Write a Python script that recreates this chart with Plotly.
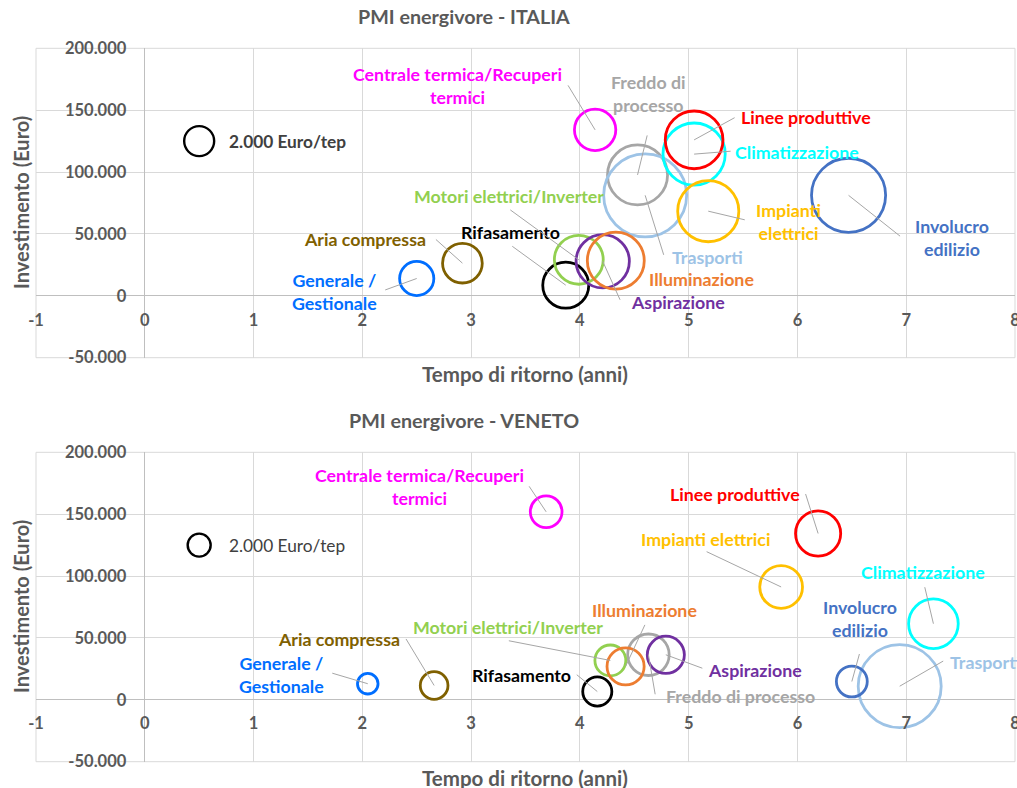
import plotly.graph_objects as go

# ---------------- data ----------------
categories = ["Generale / Gestionale", "Aria compressa", "Centrale termica/Recuperi termici",
              "Freddo di processo", "Trasporti", "Climatizzazione", "Linee produttive",
              "Impianti elettrici", "Involucro edilizio", "Rifasamento",
              "Motori elettrici/Inverter", "Aspirazione", "Illuminazione"]

# PMI energivore - ITALIA
it_payback = [2.50, 2.92, 4.14, 4.53, 4.60, 5.05, 5.05, 5.18, 6.47, 3.87, 3.99, 4.21, 4.33]
it_invest = [14000, 26400, 134100, 97700, 81200, 114500, 126000, 68400, 81200, 8600, 29100, 27900, 28400]
it_cost = [2600, 3500, 3800, 8000, 15300, 8600, 7400, 8300, 12200, 4700, 5300, 6300, 7200]

# PMI energivore - VENETO
ve_payback = [2.05, 2.66, 3.69, 4.63, 6.94, 7.25, 6.19, 5.85, 6.50, 4.16, 4.28, 4.79, 4.42]
ve_invest = [13000, 11600, 151900, 36400, 11000, 61500, 134400, 91200, 14800, 6700, 31800, 36400, 27000]
ve_cost = [1600, 2900, 3800, 6500, 26000, 9300, 7700, 6900, 3600, 3200, 3600, 5200, 5200]

# reference bubble
ref_payback = [0.5]
ref_invest = [125000]
ref_cost = [2000]
ref_label = "2.000 Euro/tep"

x_ticks = [-1, 0, 1, 2, 3, 4, 5, 6, 7, 8]
x_tick_labels = ["-1", "0", "1", "2", "3", "4", "5", "6", "7", "8"]
y_ticks = [-50000, 0, 50000, 100000, 150000, 200000]
y_tick_labels = ["-50.000", "0", "50.000", "100.000", "150.000", "200.000"]

titles = ["PMI energivore - ITALIA", "PMI energivore - VENETO"]
x_title = "Tempo di ritorno (anni)"
y_title = "Investimento (Euro)"

# ---------------- styles ----------------
colors = ["#006EFF", "#7F6000", "#FF00FF", "#A6A6A6", "#9DC3E6", "#00FFFF", "#FF0000",
          "#FFC000", "#4472C4", "#000000", "#92D050", "#7030A0", "#ED7D31"]

# label text, label centre offset (px), leader tail offset (px)
it_layout = [
    ("Generale /<br>Gestionale", (-82, 13), (-33, 12)),
    ("Aria compressa", (-97, -24), (-28, -25)),
    ("Centrale termica/Recuperi<br>termici", (-138, -44), (-28, -46)),
    ("Freddo di<br>processo", (11, -81), (10, -41)),
    ("Trasporti", (62, 62), (19, 61)),
    ("Climatizzazione", (103, -2), (38, -3)),
    ("Linee produttive", (112, -23), (42, -23)),
    ("Impianti<br>elettrici", (80, 10), (38, 9)),
    ("Involucro<br>edilizio", (103, 42), (53, 42)),
    ("Rifasamento", (-55, -53), (-55, -40)),
    ("Motori elettrici/Inverter", (-70, -64), (-70, -51)),
    ("Aspirazione", (75, 41), (18, 40)),
    ("Illuminazione", (86, 18), None),
]
ve_layout = [
    ("Generale /<br>Gestionale", (-86, -9), (-37, -11)),
    ("Aria compressa", (-95, -46), (-29, -48)),
    ("Centrale termica/Recuperi<br>termici", (-127, -25), (-18, -27)),
    ("Freddo di processo", (92, 41), (7, 41)),
    ("Trasporti", (86, -24), (45, -26)),
    ("Climatizzazione", (-10, -52), (-9, -38)),
    ("Linee produttive", (-83, -39), (-13, -41)),
    ("Impianti elettrici", (-76, -48), (-76, -36)),
    ("Involucro<br>edilizio", (8, -63), (8, -29)),
    ("Rifasamento", (-76, -17), (-22, -18)),
    ("Motori elettrici/Inverter", (-102, -33), (-103, -20)),
    ("Aspirazione", (89, 15), (38, 14)),
    ("Illuminazione", (19, -56), (20, -43)),
]

W, H = 1017, 788
PX_L, PX_R = 36, 1015
X0_PX = 144.3
FONT = "Lato"
GRID = "#D9D9D9"
AXIS_TXT = "#595959"
MAX_D = 83


def py(v):
    return 1 - v / H


def px(v):
    return v / W


panels = [
    dict(xs=it_payback, ys=it_invest, ss=it_cost, lay=it_layout, top=48.3, bottom=357.7, zero=296.0,
         title_y=17, xtitle_y=374, ytitle_y=203, ref_bold="bold"),
    dict(xs=ve_payback, ys=ve_invest, ss=ve_cost, lay=ve_layout, top=452.3, bottom=761.7, zero=699.3,
         title_y=420, xtitle_y=778, ytitle_y=607, ref_bold="normal"),
]

fig = go.Figure()
annotations = []
shapes = []
layout_axes = {}

for i, p in enumerate(panels):
    n = "" if i == 0 else str(i + 1)
    xa, ya = "x" + n, "y" + n
    sizeref = 2.0 * max(p["ss"]) / MAX_D ** 2

    fig.add_trace(go.Scatter(
        x=p["xs"], y=p["ys"], mode="markers", xaxis=xa, yaxis=ya, text=categories,
        hoverinfo="text+x+y",
        marker=dict(size=p["ss"], sizemode="area", sizeref=sizeref, opacity=1,
                    color="rgba(0,0,0,0)", line=dict(color=colors, width=2.8)),
        showlegend=False))
    fig.add_trace(go.Scatter(
        x=ref_payback, y=ref_invest, mode="markers", xaxis=xa, yaxis=ya,
        marker=dict(size=ref_cost, sizemode="area", sizeref=sizeref, opacity=1,
                    color="rgba(0,0,0,0)", line=dict(color="#000000", width=2.4)),
        showlegend=False, hoverinfo="skip"))

    layout_axes["xaxis" + n] = dict(
        domain=[PX_L / W, PX_R / W], range=[-1, 8], tickvals=x_ticks, ticktext=x_tick_labels,
        anchor="free", position=py(p["zero"]), showgrid=True, gridcolor=GRID, gridwidth=1,
        zeroline=True, zerolinecolor="#BFBFBF", zerolinewidth=1, showline=False, ticks="",
        ticklabelstandoff=12, ticklabeloverflow="allow", automargin=False, fixedrange=True,
        tickfont=dict(family=FONT, size=16.5, color=AXIS_TXT, weight="bold"))
    layout_axes["yaxis" + n] = dict(
        domain=[py(p["bottom"]), py(p["top"])], range=[-50000, 200000],
        tickvals=y_ticks, ticktext=y_tick_labels, anchor="free", position=X0_PX / W,
        showgrid=True, gridcolor=GRID, gridwidth=1, zeroline=True, zerolinecolor="#BFBFBF",
        zerolinewidth=1, showline=False, ticks="", ticklabelstandoff=18,
        ticklabeloverflow="allow", automargin=False,
        fixedrange=True, tickfont=dict(family=FONT, size=16.5, color=AXIS_TXT, weight="bold"))

    shapes.append(dict(type="rect", xref=xa + " domain", yref=ya + " domain", x0=0, x1=1, y0=0, y1=1,
                       line=dict(color=GRID, width=1), layer="below"))

    # category labels and leader lines
    for cat_i, (txt, (dx, dy), tail) in enumerate(p["lay"]):
        annotations.append(dict(
            x=p["xs"][cat_i], y=p["ys"][cat_i], xref=xa, yref=ya, text=txt, showarrow=False,
            xshift=dx, yshift=-dy, xanchor="center", yanchor="middle", align="center",
            font=dict(family=FONT, size=17.8, color=colors[cat_i], weight="bold")))
        if tail is not None:
            annotations.append(dict(
                x=p["xs"][cat_i], y=p["ys"][cat_i], xref=xa, yref=ya, text="", showarrow=True,
                arrowhead=0, arrowwidth=1, arrowcolor="#A6A6A6", ax=tail[0], ay=tail[1],
                axref="pixel", ayref="pixel", standoff=0, startstandoff=0))

    # reference bubble label
    annotations.append(dict(
        x=ref_payback[0], y=ref_invest[0], xref=xa, yref=ya, text=ref_label, showarrow=False,
        xshift=28, xanchor="left", yanchor="middle",
        font=dict(family=FONT, size=17.3, color="#404040", weight=p["ref_bold"])))

    # titles
    annotations.append(dict(x=px(464), y=py(p["title_y"]), xref="paper", yref="paper",
                            text=titles[i], showarrow=False, xanchor="center", yanchor="middle",
                            font=dict(family=FONT, size=19.7, color=AXIS_TXT, weight="bold")))
    annotations.append(dict(x=px(525), y=py(p["xtitle_y"]), xref="paper", yref="paper",
                            text=x_title, showarrow=False, xanchor="center", yanchor="middle",
                            font=dict(family=FONT, size=20.5, color=AXIS_TXT, weight="bold")))
    annotations.append(dict(x=px(21), y=py(p["ytitle_y"]), xref="paper", yref="paper",
                            text=y_title, showarrow=False, xanchor="center", yanchor="middle",
                            textangle=-90,
                            font=dict(family=FONT, size=20, color=AXIS_TXT, weight="bold")))

fig.update_layout(
    width=W, height=H, margin=dict(l=0, r=0, t=0, b=0),
    paper_bgcolor="white", plot_bgcolor="white",
    annotations=annotations, shapes=shapes, **layout_axes)

fig.write_html("out.html", config={"displayModeBar": False},
               post_script="document.body.style.margin='0';")
